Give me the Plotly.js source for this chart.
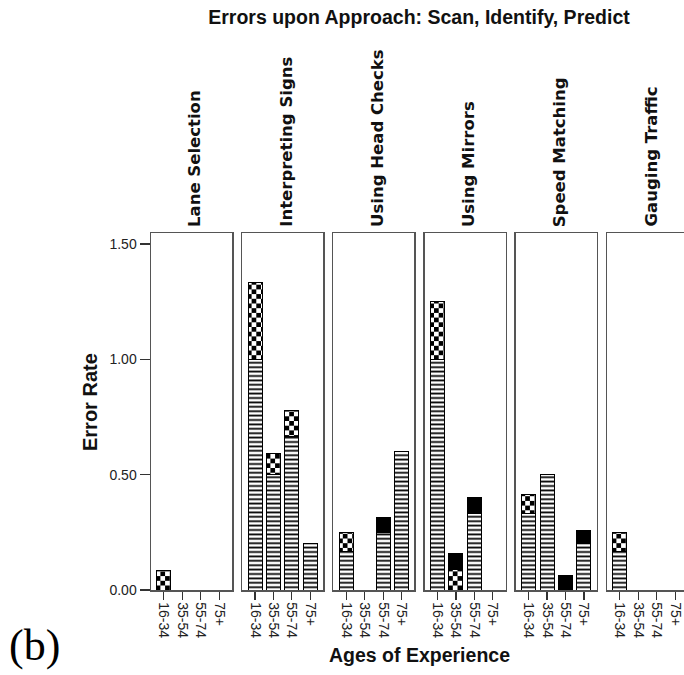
<!DOCTYPE html>
<html><head><meta charset="utf-8">
<script src="https://cdn.plot.ly/plotly-3.0.1.min.js"></script>
<style>html,body{margin:0;padding:0;overflow:hidden;background:#fff}#chart{width:700px;height:675px}</style>
</head><body><div id="chart"></div>
<script>
const panels = ["Lane Selection", "Interpreting Signs", "Using Head Checks", "Using Mirrors", "Speed Matching", "Gauging Traffic"];
const ages = ["16-34", "35-54", "55-74", "75+"];
// three stacked error components per panel (striped bottom, checkered middle, solid top)
const stripedRate = [[0, 0, 0, 0], [1.0, 0.5, 0.667, 0.2], [0.167, 0, 0.25, 0.6], [1.0, 0, 0.333, 0], [0.333, 0.5, 0, 0.2], [0.167, 0, 0, 0]];
const checkedRate = [[0.083, 0, 0, 0], [0.333, 0.09, 0.111, 0], [0.083, 0, 0, 0], [0.25, 0.087, 0, 0], [0.083, 0, 0, 0], [0.083, 0, 0, 0]];
const solidRate   = [[0, 0, 0, 0], [0, 0, 0, 0], [0, 0, 0.0625, 0], [0, 0.07, 0.067, 0], [0, 0, 0.0625, 0.06], [0, 0, 0, 0]];
const yTickVals = [0, 0.5, 1, 1.5];
const yTickText = ["0.00", "0.50", "1.00", "1.50"];

const W = 700, H = 675, mL = 151, mR = 12, mT = 233, mB = 85;
const plotW = W - mL - mR;
const pitch = 91.2, panelW = 81;
const frame = '#555';
const tickFont = {family: 'Liberation Sans, Arial, sans-serif', size: 14, color: '#222'};

const traces = [];
const layout = {
  width: W, height: H,
  margin: {l: mL, r: mR, t: mT, b: mB, pad: 0},
  paper_bgcolor: '#fff', plot_bgcolor: '#fff',
  barmode: 'stack', bargap: 0.23, showlegend: false,
  title: {text: 'Errors upon Approach: Scan, Identify, Predict', x: 419 / W, xanchor: 'center', y: 1 - 17 / H, yanchor: 'middle',
    font: {family: 'Liberation Sans, Arial, sans-serif', size: 19.5, color: '#111', weight: 'bold'}},
  annotations: []
};

const series = [
  {name: 'Striped component', data: stripedRate, pattern: {shape: '-', fgcolor: '#000', bgcolor: '#fff', size: 4.4, solidity: 0.4}},
  {name: 'Checkered component', data: checkedRate, pattern: {shape: '.', fgcolor: '#000', bgcolor: '#fff', size: 9.4, solidity: 0.3}},
  {name: 'Solid component', data: solidRate, pattern: null}
];

panels.forEach((p, i) => {
  const sfx = i === 0 ? '' : String(i + 1);
  series.forEach(s => {
    const t = {
      type: 'bar', name: s.name, x: ages, y: s.data[i],
      xaxis: 'x' + sfx, yaxis: 'y' + sfx,
      marker: {color: s.pattern ? '#fff' : '#000', line: {color: '#000', width: 1}},
      hoverinfo: 'x+y+name'
    };
    if (s.pattern) t.marker.pattern = s.pattern;
    traces.push(t);
  });
  const x0 = i * pitch / plotW, x1 = (i * pitch + panelW) / plotW;
  layout['xaxis' + sfx] = {
    domain: [x0, x1], anchor: 'y' + sfx, type: 'category',
    categoryorder: 'array', categoryarray: ages, range: [-0.7, 3.7],
    showline: true, mirror: true, linecolor: frame, linewidth: 1.5,
    ticks: 'outside', ticklen: 8, tickwidth: 1.2, tickcolor: '#333',
    tickangle: 90, tickfont: tickFont, showgrid: false, zeroline: false, fixedrange: true
  };
  layout['yaxis' + sfx] = {
    domain: [0, 1], anchor: 'x' + sfx, range: [0, 1.548],
    showline: true, mirror: true, linecolor: frame, linewidth: 1.5,
    ticks: i === 0 ? 'outside' : '', ticklen: 10, tickwidth: 1.2, tickcolor: '#333',
    tickvals: yTickVals, ticktext: yTickText, showticklabels: i === 0, tickfont: tickFont,
    showgrid: false, zeroline: false, fixedrange: true
  };
  if (i > 0) layout['yaxis' + sfx].matches = 'y';
  layout.annotations.push({
    text: p, xref: 'x' + sfx + ' domain', x: 0.5, xshift: 3, xanchor: 'center',
    yref: 'paper', y: 1, yshift: 4, yanchor: 'bottom', textangle: -90, showarrow: false,
    font: {family: 'DejaVu Sans, sans-serif', size: 16.5, color: '#111', weight: 'bold'}
  });
});

layout.annotations.push({
  text: 'Error Rate', xref: 'paper', x: 0, xshift: 90 - mL, xanchor: 'center',
  yref: 'paper', y: (590 - 402) / (590 - 233), yanchor: 'middle', textangle: -90, showarrow: false,
  font: {family: 'Liberation Sans, Arial, sans-serif', size: 20, color: '#111', weight: 'bold'}
});
layout.annotations.push({
  text: 'Ages of Experience', xref: 'paper', x: (419 - mL) / plotW, xanchor: 'center',
  yref: 'paper', y: 0, yshift: -(655 - 590), yanchor: 'middle', showarrow: false,
  font: {family: 'Liberation Sans, Arial, sans-serif', size: 19.5, color: '#111', weight: 'bold'}
});
layout.annotations.push({
  text: '(b)', xref: 'paper', x: 0, xshift: 34 - mL, xanchor: 'center',
  yref: 'paper', y: 0, yshift: -(645 - 590), yanchor: 'middle', showarrow: false,
  font: {family: 'Liberation Serif, Times New Roman, serif', size: 44, color: '#000'}
});

Plotly.newPlot('chart', traces, layout, {displayModeBar: false, staticPlot: true}).then(gd => {
  // turn the dot pattern tiles into checkerboard tiles
  gd.querySelectorAll('pattern').forEach(pt => {
    const c = pt.querySelector('circle');
    if (!c) return;
    const w = parseFloat(pt.getAttribute('width')), h = parseFloat(pt.getAttribute('height'));
    const hw = w / 2, hh = h / 2;
    const path = document.createElementNS('http://www.w3.org/2000/svg', 'path');
    path.setAttribute('d', `M0,0H${hw}V${hh}H0Z M${hw},${hh}H${w}V${h}H${hw}Z`);
    path.setAttribute('fill', '#000');
    c.replaceWith(path);
  });
});
</script>
</body></html>
